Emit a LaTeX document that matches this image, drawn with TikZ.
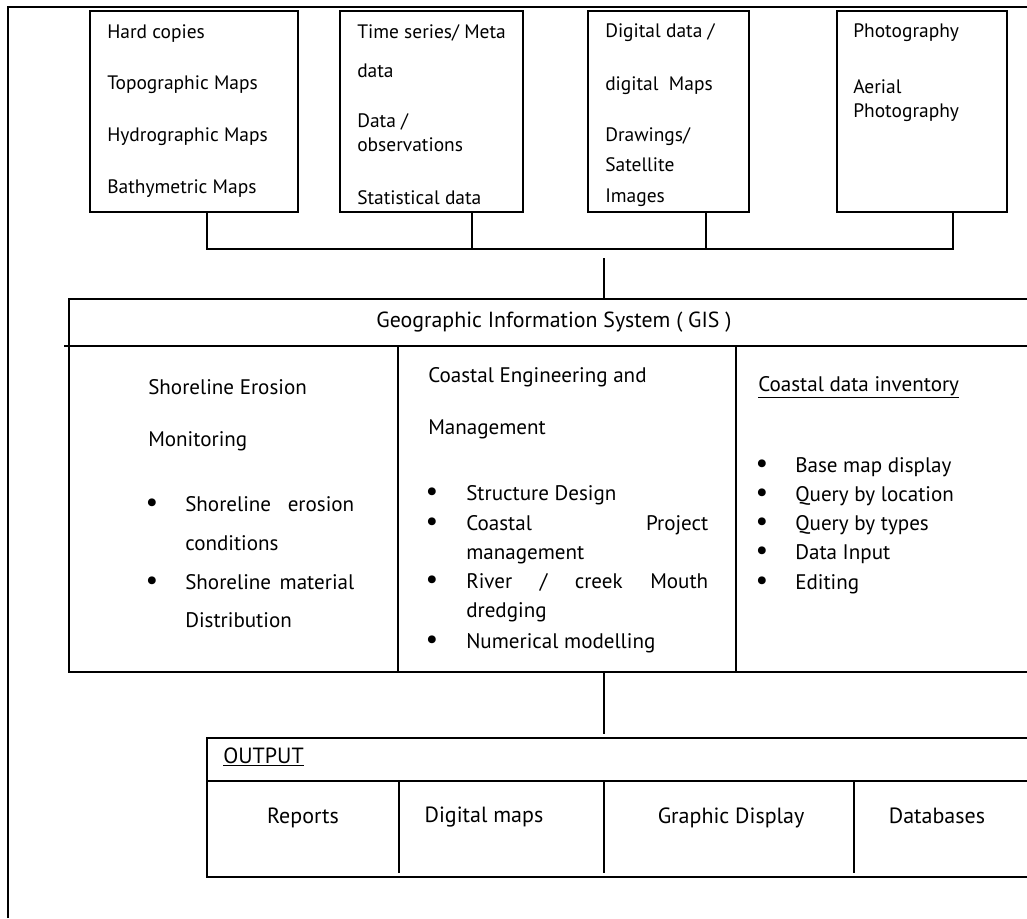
\documentclass[tikz,border=0pt]{standalone}
\usepackage{fontspec}
\setmainfont{PT Sans}
\usepackage{tikz}
\usetikzlibrary{positioning,fit}

\begin{document}
\begin{tikzpicture}[
  x=0.75pt,
  y=-0.75pt,
  font=\fontsize{14.6}{17}\selectfont,
  outer/.style={line width=0.9pt},
  srcbox/.style={draw, line width=1.3pt, inner sep=0pt},
  tabline/.style={line width=1.3pt},
  link/.style={line width=1.1pt},
  txt/.style={anchor=west, inner sep=0pt, text height=1.6ex, text depth=0.4ex},
  ctxt/.style={txt, anchor=center},
  bul/.style={txt, anchor=center, font=\fontsize{21}{21}\selectfont},
  gisfont/.style={font=\fontsize{15.8}{18}\selectfont},
  headfont/.style={font=\fontsize{16.4}{19}\selectfont},
  outfont/.style={font=\fontsize{16.5}{19}\selectfont}
]
  \useasboundingbox (0,0) rectangle (1027,918);
  \draw[outer] (8,918) |- (1027,7);

  \node[srcbox, fit={(90,11) (298,212)}] (hard) {};
  \node[srcbox, fit={(340,11) (523,212)}] (meta) {};
  \node[srcbox, fit={(588,11) (749,212)}] (digi) {};
  \node[srcbox, fit={(837,11) (1007,212)}] (photo) {};

  \foreach \t [count=\i from 1] in {Hard copies,Topographic Maps,Hydrographic Maps,Bathymetric Maps} {
    \pgfmathsetmacro{\y}{34+51.7*(\i-1)}
    \node[txt] (hard\i) at (107,\y) {\t};
  }
  \node[txt] (meta1) at (357,34) {Time series/ Meta};
  \node[txt] (meta2) at (357,73) {data};
  \node[txt] (meta3) at (357,123) {Data /};
  \node[txt] (meta4) at (357,147) {observations};
  \node[txt] (meta5) at (357,200) {Statistical data};
  \node[txt] (digi1) at (605,33) {Digital data /};
  \node[txt] (digi2) at (605,86) {digital\ \ Maps};
  \node[txt] (digi3) at (605,137) {Drawings/};
  \node[txt] (digi4) at (605,167) {Satellite};
  \node[txt] (digi5) at (605,198) {Images};
  \node[txt] (photo1) at (853,33) {Photography};
  \node[txt] (photo2) at (853,89) {Aerial};
  \node[txt] (photo3) at (853,113) {Photography};

  \coordinate (bus1) at (207,249);
  \coordinate (bus2) at (472,249);
  \coordinate (bus3) at (706,249);
  \coordinate (bus4) at (953,249);
  \draw[link] (hard.south -| bus1) -- (bus1) -- (bus4) -- (photo.south -| bus4);
  \draw[link] (meta.south -| bus2) -- (bus2);
  \draw[link] (digi.south -| bus3) -- (bus3);

  \coordinate (gisin) at (604,258);
  \coordinate (gistop) at (604,299);
  \draw[link] (gisin) -- (gistop);
  \draw[tabline] (1027,299) -| (69,672) -- (1027,672);
  \draw[tabline] (64,346) -- (1027,346);
  \draw[tabline] (398,346) -- (398,672);
  \draw[tabline] (736,346) -- (736,672);
  \node[ctxt, headfont] (gis) at (554,323) {Geographic Information System ( GIS )};

  \begin{scope}[gisfont]
  \node[txt] (shore1) at (148,390) {Shoreline Erosion};
  \node[txt] (shore2) at (148,442) {Monitoring};
  \node[bul] (shoreb1) at (152,507) {\textbullet};
  \node[txt] (shore3) at (185,507) {\makebox[126.75pt]{Shoreline\hfill erosion}};
  \node[txt] (shore4) at (185,546) {conditions};
  \node[bul] (shoreb2) at (152,585) {\textbullet};
  \node[txt] (shore5) at (185,585) {\makebox[126.75pt]{Shoreline\hfill material}};
  \node[txt] (shore6) at (185,623) {Distribution};

  \node[txt] (eng1) at (428,378) {Coastal Engineering and};
  \node[txt] (eng2) at (428,430) {Management};
  \node[bul] (engb1) at (432,496) {\textbullet};
  \node[txt] (eng3) at (466,496) {Structure Design};
  \node[bul] (engb2) at (432,526) {\textbullet};
  \node[txt] (eng4) at (466,526) {\makebox[181.5pt]{Coastal\hfill Project}};
  \node[txt] (eng5) at (466,555) {management};
  \node[bul] (engb3) at (432,584) {\textbullet};
  \node[txt] (eng6) at (466,584) {\makebox[181.5pt]{River\hfill/\hfill creek\hfill Mouth}};
  \node[txt] (eng7) at (466,613) {dredging};
  \node[bul] (engb4) at (432,644) {\textbullet};
  \node[txt] (eng8) at (466,644) {Numerical modelling};

  \node[txt] (inv) at (758,387) {\underline{Coastal data inventory}};
  \foreach \t [count=\i from 1] in {Base map display,Query by location,Query by types,Data Input,Editing} {
    \pgfmathsetmacro{\y}{468+29.25*(\i-1)}
    \node[bul] (invb\i) at (762,\y) {\textbullet};
    \node[txt] (inv\i) at (795,\y) {\t};
  }
  \end{scope}

  \coordinate (gisbot) at (604,672);
  \coordinate (outtop) at (604,734);
  \draw[link] (gisbot) -- (outtop);
  \draw[tabline] (1027,738) -| (207,877) -- (1027,877);
  \draw[tabline] (207,781) -- (1027,781);
  \foreach \x in {399,604,854}
    \draw[tabline] (\x,781) -- (\x,873);
  \begin{scope}[outfont]
  \node[txt] (out) at (223,759) {\underline{OUTPUT}};
  \node[ctxt] (rep) at (303,819) {Reports};
  \node[ctxt] (dmap) at (484,818) {Digital maps};
  \node[ctxt] (gdisp) at (731,819) {Graphic Display};
  \node[ctxt] (dbase) at (937,819) {Databases};
  \end{scope}
\end{tikzpicture}
\end{document}
